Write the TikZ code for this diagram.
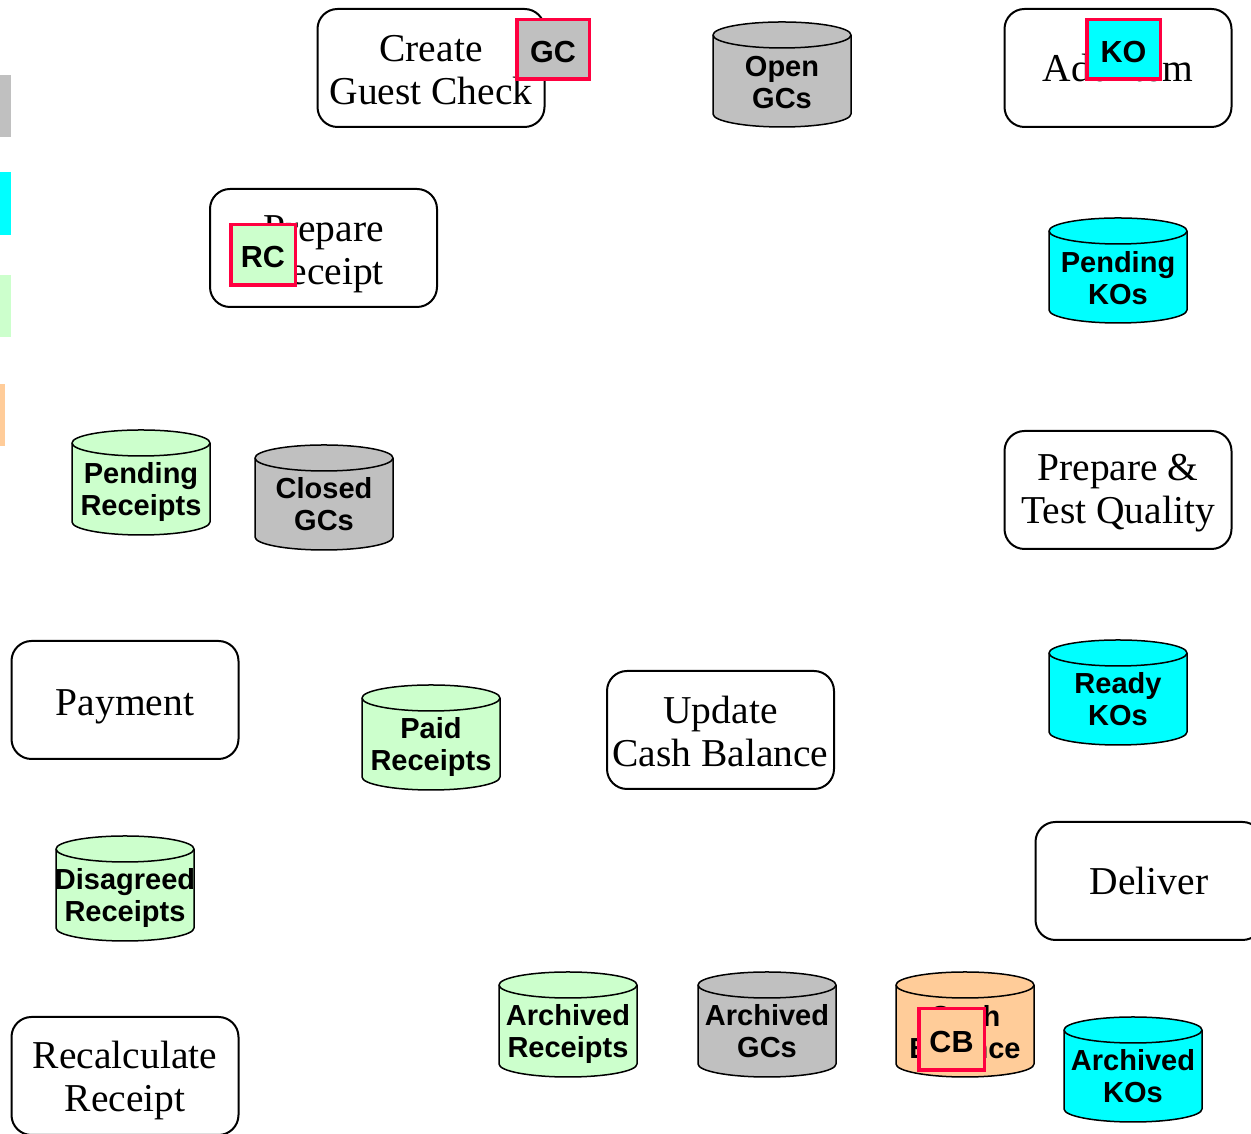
\documentclass[tikz,border=0pt]{standalone}
\usepackage{fontspec}
\setmainfont{Liberation Serif}
\setsansfont{Liberation Sans}

\definecolor{gcgray}{HTML}{C0C0C0}
\definecolor{kocyan}{HTML}{00FFFF}
\definecolor{rcgreen}{HTML}{CCFFCC}
\definecolor{cborange}{HTML}{FFCC99}
\definecolor{tagred}{HTML}{FF0040}

\tikzset{
  processbox/.style={draw, line width=2pt, rounded corners=20pt,
    minimum width=227pt, minimum height=118pt, inner sep=0pt},
  processtext/.style={align=center, inner sep=0pt,
    font=\fontsize{39.5}{43}\selectfont},
  storetext/.style={align=center, inner sep=0pt,
    font=\sffamily\bfseries\fontsize{29}{32}\selectfont},
  tag/.style={draw=tagred, line width=3.5pt, inner sep=0pt,
    text height=26pt, text depth=0pt,
    font=\sffamily\bfseries\fontsize{30.5}{32}\selectfont},
}

% process: name, centre x, centre y, downward text nudge, label
\newcommand\process[5]{%
  \node[processbox] (#1) at (#2,#3) {};
  \node[processtext] (#1-text) at ([yshift=-#4pt]#1.center) {#5};%
}

% data store drawn as a cylinder: name, left x, top y (measured downward), fill, text nudge, label
\newcommand\datastore[6]{%
  \pgfmathsetmacro\dsx{#2}\pgfmathsetmacro\dsy{1134-#3}%
  \filldraw[fill=#4, line width=1.5pt]
    (\dsx,\dsy-13) -- (\dsx,\dsy-92)
    arc[start angle=180, end angle=360, x radius=69, y radius=13]
    -- (\dsx+138,\dsy-13)
    arc[start angle=0, end angle=180, x radius=69, y radius=13] -- cycle;
  \draw[line width=1.5pt] (\dsx,\dsy-13)
    arc[start angle=180, end angle=360, x radius=69, y radius=13];
  \node[storetext] (#1) at (\dsx+69,\dsy-59.5-#5) {#6};%
}

\begin{document}
\begin{tikzpicture}[x=1pt, y=1pt]
\useasboundingbox (0,0) rectangle (1251,1134);

% colour key along the left edge
\fill[gcgray]   (0,1059) rectangle (11,997);
\fill[kocyan]   (0,962)  rectangle (11,899);
\fill[rcgreen]  (0,859)  rectangle (11,797);
\fill[cborange] (0,750)  rectangle (5,688);

% processes
\process{create}{431}{1066}{2}{Create\\Guest Check}
\process{additem}{1118}{1066}{0}{Add Item}
\process{prepRC}{323.5}{886}{6}{Prepare\\Receipt}
\process{prepTQ}{1118}{644}{3}{Prepare \&\\Test Quality}
\process{payment}{125}{434}{7}{Payment}
\process{update}{720.5}{404}{1}{Update\\Cash Balance}
\process{deliver}{1149}{253}{0}{Deliver}
\process{recalc}{125}{58}{5}{Recalculate\\Receipt}

% data stores
\datastore{openGC}{713}{22}{gcgray}{1}{Open\\GCs}
\datastore{pendKO}{1049}{218}{kocyan}{1}{Pending\\KOs}
\datastore{pendRC}{72}{430}{rcgreen}{3}{Pending\\Receipts}
\datastore{closedGC}{255}{445}{gcgray}{0}{Closed\\GCs}
\datastore{paidRC}{362}{685}{rcgreen}{3}{Paid\\Receipts}
\datastore{readyKO}{1049}{640}{kocyan}{0}{Ready\\KOs}
\datastore{disRC}{56}{836}{rcgreen}{3}{Disagreed\\Receipts}
\datastore{archRC}{499}{972}{rcgreen}{3}{Archived\\Receipts}
\datastore{archGC}{698}{972}{gcgray}{0}{Archived\\GCs}
\datastore{cashbal}{896}{972}{cborange}{1}{Cash\\Balance}
\datastore{archKO}{1064}{1017}{kocyan}{0}{Archived\\KOs}

% entity tags
\node[tag, fill=gcgray,   minimum width=72.5pt, minimum height=59.5pt] (tagGC) at (553,1084.5)    {GC};
\node[tag, fill=kocyan,   minimum width=73.5pt, minimum height=59.5pt] (tagKO) at (1123.5,1084.5) {KO};
\node[tag, fill=rcgreen,  minimum width=64.5pt, minimum height=60.5pt] (tagRC) at (263,879)       {RC};
\node[tag, fill=cborange, minimum width=65.5pt, minimum height=61.5pt] (tagCB) at (951.5,94.5)    {CB};
\end{tikzpicture}
\end{document}
